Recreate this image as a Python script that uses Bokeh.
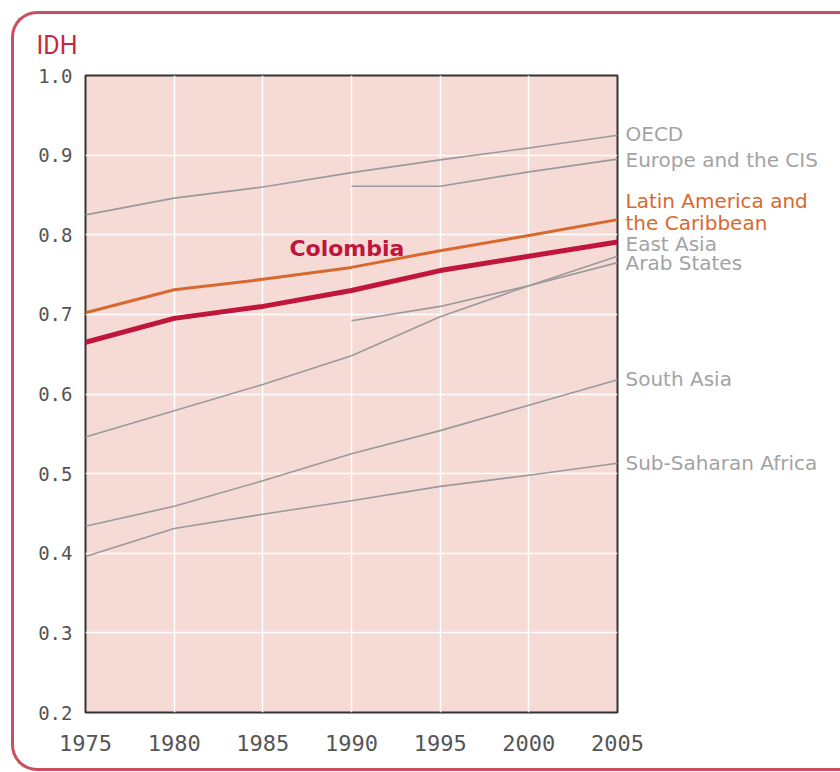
from bokeh.plotting import figure
from bokeh.layouts import row
from bokeh.models import Range1d, FixedTicker, NumeralTickFormatter, Label
from bokeh.core.properties import value
from bokeh.embed import file_html
from bokeh.resources import INLINE

# ---- data ----
years = [1975, 1980, 1985, 1990, 1995, 2000, 2005]
years_from_1990 = [1990, 1995, 2000, 2005]

oecd = [0.825, 0.846, 0.860, 0.878, 0.894, 0.909, 0.925]
europe_cis = [0.861, 0.861, 0.879, 0.895]
latin_america = [0.702, 0.731, 0.744, 0.759, 0.780, 0.799, 0.819]
colombia = [0.665, 0.695, 0.710, 0.730, 0.755, 0.773, 0.791]
east_asia = [0.546, 0.579, 0.612, 0.648, 0.697, 0.736, 0.773]
arab_states = [0.692, 0.710, 0.736, 0.765]
south_asia = [0.434, 0.459, 0.491, 0.525, 0.554, 0.586, 0.618]
sub_saharan_africa = [0.396, 0.431, 0.449, 0.466, 0.484, 0.498, 0.513]

x_ticks = [1975, 1980, 1985, 1990, 1995, 2000, 2005]
y_ticks = [0.2, 0.3, 0.4, 0.5, 0.6, 0.7, 0.8, 0.9, 1.0]

label_names = ["OECD", "Europe and the CIS", "Latin America and", "the Caribbean",
               "East Asia", "Arab States", "South Asia", "Sub-Saharan Africa"]
label_end_values = [oecd[-1], europe_cis[-1], latin_america[-1], latin_america[-1],
                    east_asia[-1], arab_states[-1], south_asia[-1], sub_saharan_africa[-1]]

GRAY_LINE = "#9a9a9a"
GRAY_TEXT = "#a3a3a3"
ORANGE = "#d7692f"
RED = "#c0163b"

label_colors = [GRAY_TEXT, GRAY_TEXT, ORANGE, ORANGE, GRAY_TEXT, GRAY_TEXT, GRAY_TEXT, GRAY_TEXT]
label_shift_px = [-1, 1, -19, 3, -12, 0, -1, 0]   # screen shift of each label from its line end

y_range = Range1d(0.2, 1.0)

p = figure(width=647, height=772, output_backend="svg", toolbar_location=None,
           x_range=Range1d(1975, 2005), y_range=y_range,
           min_border_left=85, min_border_right=30, min_border_top=75, min_border_bottom=60)

p.title.text = "IDH"
p.title.align = "left"
p.title.offset = -49
p.title.text_color = "#c8283e"
p.title.text_font = "Roboto"
p.title.text_font_style = "normal"
p.title.text_font_size = "25px"
p.title.standoff = 31

p.background_fill_color = "#f6dad5"
p.border_fill_color = "white"
p.outline_line_color = "#333333"
p.outline_line_width = 2

for ax in (p.xaxis, p.yaxis):
    ax.axis_line_color = None
    ax.major_tick_line_color = None
    ax.minor_tick_line_color = None
    ax.major_tick_out = 0
    ax.major_tick_in = 0
    ax.major_label_text_color = "#555555"
    ax.major_label_text_font = "DejaVu Sans Mono"

p.xaxis.ticker = FixedTicker(ticks=x_ticks)
p.yaxis.ticker = FixedTicker(ticks=y_ticks)
p.yaxis.formatter = NumeralTickFormatter(format="0.0")
p.xaxis.major_label_text_font_size = "22px"
p.yaxis.major_label_text_font_size = "19px"
p.xaxis.major_label_standoff = 22
p.yaxis.major_label_standoff = 13

p.xgrid.ticker = FixedTicker(ticks=x_ticks)
p.ygrid.ticker = FixedTicker(ticks=y_ticks)
p.grid.grid_line_color = "white"
p.grid.grid_line_width = 1.5

# gray regional lines
for xs, ys in [(years, oecd), (years_from_1990, europe_cis), (years, east_asia),
               (years_from_1990, arab_states), (years, south_asia), (years, sub_saharan_africa)]:
    p.line(xs, ys, line_color=GRAY_LINE, line_width=1.6, line_join="round")

p.line(years, latin_america, line_color=ORANGE, line_width=3, line_join="round")
p.line(years, colombia, line_color=RED, line_width=5, line_join="round")

p.add_layout(Label(x=1986.5, y=0.783, text="Colombia", text_color=RED,
                   text_font="DejaVu Sans", text_font_style="bold",
                   text_font_size="22px", text_baseline="middle", text_align="left"))

# transparent label panel to the right (overlapping p's right border), sharing the y scale
q = figure(width=223, height=772, output_backend="svg", toolbar_location=None,
           x_range=Range1d(0, 1), y_range=y_range,
           x_axis_location=None, y_axis_location=None,
           min_border_left=0, min_border_right=0, min_border_top=75, min_border_bottom=60,
           styles={"margin-left": "-30px"})
q.grid.visible = False
q.outline_line_color = None
q.background_fill_alpha = 0
q.border_fill_alpha = 0
q.text(x=[0] * len(label_names), y=label_end_values, text=label_names,
       text_color=label_colors, x_offset=8, y_offset=label_shift_px,
       text_font=value("DejaVu Sans"), text_font_size=value("20px"),
       text_baseline="middle", text_align="left")

frame_css = """
:host::after {
  content: "";
  position: absolute;
  left: 11px; top: 11px;
  width: 829px; height: 760px;
  box-sizing: border-box;
  border: 3px solid #c9505f;
  border-right: none;
  border-radius: 26px 0 0 26px;
  pointer-events: none;
}
:host { position: relative; }
"""

layout = row(p, q, spacing=0, stylesheets=[frame_css])

open("out.html", "w").write(file_html(layout, INLINE))
